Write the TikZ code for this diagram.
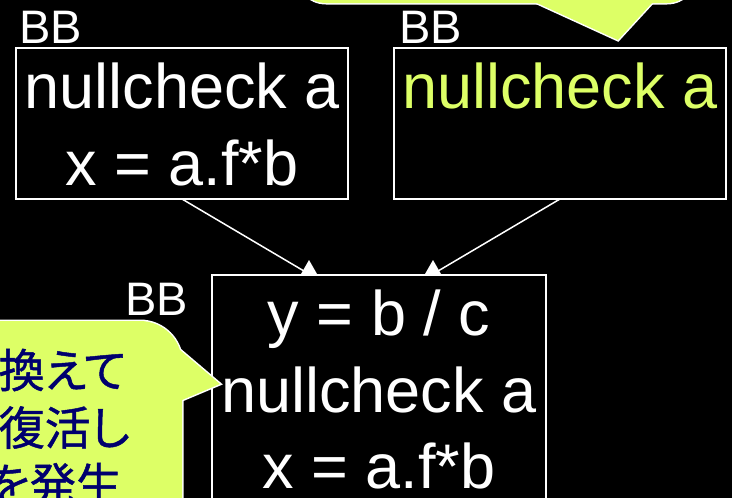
\documentclass[tikz,border=0pt]{standalone}
\usepackage{fontspec}
\setmainfont{Liberation Sans}
\newfontfamily\jpfont[RawFeature=+palt, FakeBold=1]{Noto Sans CJK JP}
\definecolor{callfill}{RGB}{221,255,102}
\definecolor{navytext}{RGB}{0,0,110}
\tikzset{
  bbox/.style={draw=white, line width=1.5pt, fill=black, inner sep=0pt, outer sep=0pt},
  code/.style={text=white, font=\fontsize{63}{70}\selectfont, inner sep=0pt, anchor=base},
  bblabel/.style={text=white, font=\fontsize{47}{50}\selectfont, inner sep=0pt, anchor=base west},
  flow/.style={draw=white, line width=1.5pt},
  jp/.style={text=navytext, font=\jpfont\fontsize{46}{50}\selectfont, inner sep=0pt},
  calloutline/.style={draw=white, line width=3pt},
  calloutfill/.style={fill=callfill},
  uphead/.pic={\fill[white] (-8,0) -- (0,-14) -- (8,0) -- cycle;}
}
\begin{document}
\begin{tikzpicture}[x=1pt,y=-1pt]
\useasboundingbox (0,0) rectangle (732,498);
\clip (0,0) rectangle (732,498);
\fill[black] (0,0) rectangle (732,498);

% basic blocks
\node[bbox, minimum width=332pt, minimum height=151pt] (b1) at (182,123.5) {};
\node[bbox, minimum width=332pt, minimum height=151pt] (b2) at (560,123.5) {};
\node[bbox, minimum width=334pt, minimum height=240pt] (b3) at (379,395) {};

% block labels
\node[bblabel] (l1) at (19,43) {BB};
\node[bblabel] (l2) at (399,43) {BB};
\node[bblabel] (l3) at (125,315) {BB};

% block contents
\node[code] (n1) at (182.5,108) {nullcheck a};
\node[code] (x1) at (182,185) {x = a.f*b};
\node[code, text=callfill] (n2) at (560,108) {nullcheck a};
\node[code] (y3) at (379,335) {y = b / c};
\node[code] (n3) at (379,412) {nullcheck a};
\node[code] (x3) at (379,488) {x = a.f*b};

% control flow edges
\coordinate (h1) at (309,274);
\coordinate (h2) at (433,274);
\draw[flow] (b1.south) -- (h1);
\draw[flow] (b2.south) -- (h2);
\pic at (h1) {uphead};
\pic at (h2) {uphead};

% callout at the top
\path[calloutline, rounded corners=30pt] (296,-100) rectangle (697,3);
\path[calloutline] (537,3) -- (618,40) -- (652,3) -- cycle;
\path[calloutfill, rounded corners=30pt] (296,-100) rectangle (697,3);
\path[calloutfill] (537,3) -- (618,40) -- (652,3) -- cycle;

% callout on the left
\path[calloutline, rounded corners=42pt] (-100,321) rectangle (182,600);
\path[calloutline] (180,350) -- (220,384) -- (182,400) -- cycle;
\path[calloutfill, rounded corners=42pt] (-100,321) rectangle (182,600);
\path[calloutfill] (180,350) -- (220,384) -- (182,400) -- cycle;

\node[jp, anchor=base west] (j1) at (-1.5,387.5) {換えて};
\node[jp, anchor=base west] (j2) at (-1.5,445) {復活し};
\node[jp, anchor=base east] (j3) at (122,501.5) {を発生};
\end{tikzpicture}
\end{document}
